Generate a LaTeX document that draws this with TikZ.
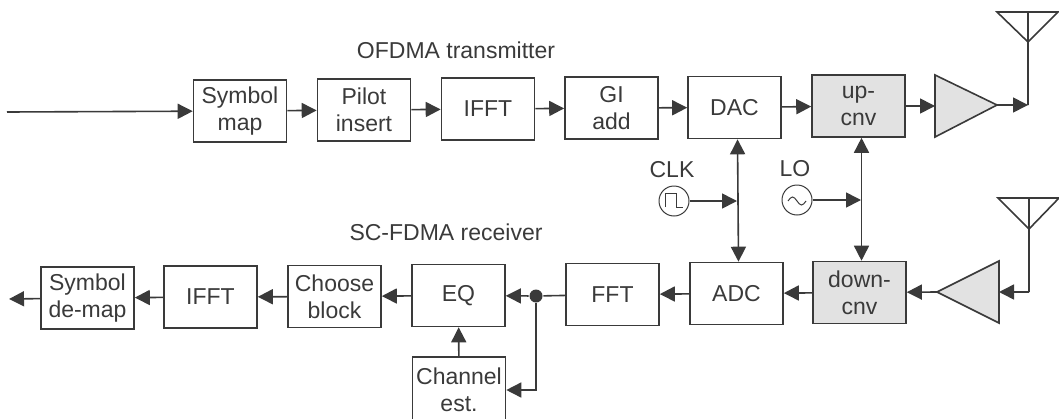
\documentclass[tikz,border=0pt]{standalone}
\usepackage{fontspec}
\setmainfont{Liberation Sans}
\usetikzlibrary{arrows.meta}
\definecolor{inkgray}{HTML}{3A3A3A}
\definecolor{cnvgray}{HTML}{E2E2E2}

\begin{document}
\begin{tikzpicture}[
    x=.5pt,
    y=-.5pt,
    line width=.8pt,
    color=inkgray,
    font=\fontsize{11.5}{13.5}\selectfont,
    text=inkgray,
    block/.style = {
      minimum width=46.5pt,
      minimum height=31pt,
      shape=rectangle,
      inner sep=0pt,
      draw,
      align=center
    },
    cnv/.style = {block, fill=cnvgray},
    source/.style = {shape=circle, draw, line width=.5pt, minimum size=15pt, inner sep=0pt},
    caption/.style = {inner sep=0pt, align=center},
    dot/.style = {shape=circle, fill, minimum size=6.5pt, inner sep=0pt},
    sig/.style = {-{Triangle[length=7.5pt,width=7.5pt]}},
    bisig/.style = {{Triangle[length=7.5pt,width=7.5pt]}-{Triangle[length=7.5pt,width=7.5pt]}}
    ]
    \useasboundingbox (0,0) rectangle (1059,418);

    % transmitter chain
    \coordinate (input) at (7,112);
    \node[block] (symbolmap) at (240,111) {Symbol\\map};
    \node[block] (pilot) at (364,110) {Pilot\\insert};
    \node[block] (txifft) at (488,109) {IFFT};
    \node[block] (giadd) at (611.5,108) {GI\\add};
    \node[block] (dac) at (734.5,107.5) {DAC};
    \node[cnv] (upcnv) at (858.5,106) {up-\\cnv};
    \node[caption] (txtitle) at (456,50) {OFDMA transmitter};

    % receiver chain
    \node[block] (demap) at (87.5,298) {Symbol\\de-map};
    \node[block] (rxifft) at (210.5,297) {IFFT};
    \node[block] (choose) at (334.5,296.5) {Choose\\block};
    \node[block] (eq) at (458.5,295.5) {EQ};
    \node[dot] (tap) at (536,296) {};
    \node[block] (fft) at (612.5,294.5) {FFT};
    \node[block] (adc) at (736.5,293.5) {ADC};
    \node[cnv] (downcnv) at (859.5,292.5) {down-\\cnv};
    \node[block, minimum height=33pt] (chest) at (459,390) {Channel\\est.};
    \node[caption] (rxtitle) at (446,232) {SC-FDMA receiver};
    \coordinate (output) at (9,299);

    % amplifiers and antennas
    \coordinate (txampin) at (935,106);
    \coordinate (txampout) at (997,105);
    \coordinate (txfeed) at (1028,105);
    \coordinate (txant) at (1028,42);
    \coordinate (rxampout) at (937,292);
    \coordinate (rxampin) at (999,292);
    \coordinate (rxfeed) at (1029,292);
    \coordinate (rxant) at (1029,229);
    \draw[fill=cnvgray] (935,75) -- (txampout) -- (935,137) -- cycle;
    \draw[fill=cnvgray] (999,261) -- (rxampout) -- (999,323) -- cycle;
    \draw (997,12) -- (1058,12) -- (txant) -- cycle (1028,12) -- (txant) -- (txfeed);
    \draw (998,198) -- (1059,198) -- (rxant) -- cycle (1029,198) -- (rxant) -- (rxfeed);

    % clock and local oscillator
    \node[caption] (clklabel) at (672,170) {CLK};
    \node[caption] (lolabel) at (795,169) {LO};
    \node[source] (clk) at (674,201) {};
    \node[source] (lo) at (797,200) {};
    \draw[line width=.5pt] ([shift={(-9,6)}]clk.center) -- ++(0,-14) -- ++(11,0) -- ++(0,14) -- ++(7,0);
    \draw[line width=.5pt] ([shift={(-9,1)}]lo.center) sin ++(4.5,-4) cos ++(4.5,4) sin ++(4.5,4) cos ++(4.5,-4);
    \coordinate (clkbus) at (737,201);
    \coordinate (lobus) at (861,200);

    \draw[sig] (input) -- (symbolmap);
    \draw[sig] (symbolmap) -- (pilot);
    \draw[sig] (pilot) -- (txifft);
    \draw[sig] (txifft) -- (giadd);
    \draw[sig] (giadd) -- (dac);
    \draw[sig] (dac) -- (upcnv);
    \draw[sig] (upcnv) -- (txampin);
    \draw[sig] (txampout) -- (txfeed);

    \draw[sig] (rxfeed) -- (rxampin);
    \draw[sig] (rxampout) -- (downcnv);
    \draw[sig] (downcnv) -- (adc);
    \draw[sig] (adc) -- (fft);
    \draw (fft) -- (tap);
    \draw[sig] (tap) -- (eq);
    \draw[sig] (tap) |- (chest);
    \draw[sig] (chest) -- (eq);
    \draw[sig] (eq) -- (choose);
    \draw[sig] (choose) -- (rxifft);
    \draw[sig] (rxifft) -- (demap);
    \draw[sig] (demap) -- (output);

    \draw[bisig] (dac.south) ++(3,0) -- ([xshift=1pt]adc.north);
    \draw[bisig] (upcnv.south) ++(3,0) -- ([xshift=1pt]downcnv.north);
    \draw[sig] (clk) -- (clkbus);
    \draw[sig] (lo) -- (lobus);
  \end{tikzpicture}
\end{document}
